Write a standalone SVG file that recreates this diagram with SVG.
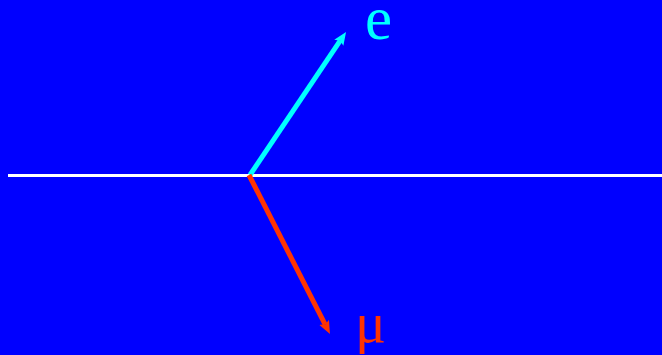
<svg xmlns="http://www.w3.org/2000/svg" width="662" height="355" viewBox="0 0 662 355">
<defs>
<marker id="hc" markerWidth="2.6" markerHeight="2.2" refX="0.5" refY="1.1" orient="auto" markerUnits="strokeWidth"><path d="M0,0 L2.6,1.1 L0,2.2 L0.5,1.1 Z" fill="#00FFFF"/></marker>
<marker id="hr" markerWidth="2.6" markerHeight="2.2" refX="0.5" refY="1.1" orient="auto" markerUnits="strokeWidth"><path d="M0,0 L2.6,1.1 L0,2.2 L0.5,1.1 Z" fill="#FF3300"/></marker>
</defs>
<style>
.lbl{font-family:"Liberation Serif","Times New Roman",serif}
</style>
<rect width="662" height="355" fill="#0000FF"/>
<g id="connectors">
<line x1="8" y1="175.5" x2="662" y2="175.5" stroke="#FFFFFF" stroke-width="3"/>
<line x1="250" y1="175" x2="340.2" y2="40.7" stroke="#00FFFF" stroke-width="5" marker-end="url(#hc)"/>
<line x1="249" y1="175" x2="325.2" y2="324.6" stroke="#FF3300" stroke-width="5" marker-end="url(#hr)"/>
</g>
<g id="e"><text class="lbl" x="365" y="39" font-size="61" fill="#00FFFF">e</text></g>
<g id="mu"><text class="lbl" x="355" y="342" font-size="58" fill="#FF3300">μ</text></g>
</svg>
